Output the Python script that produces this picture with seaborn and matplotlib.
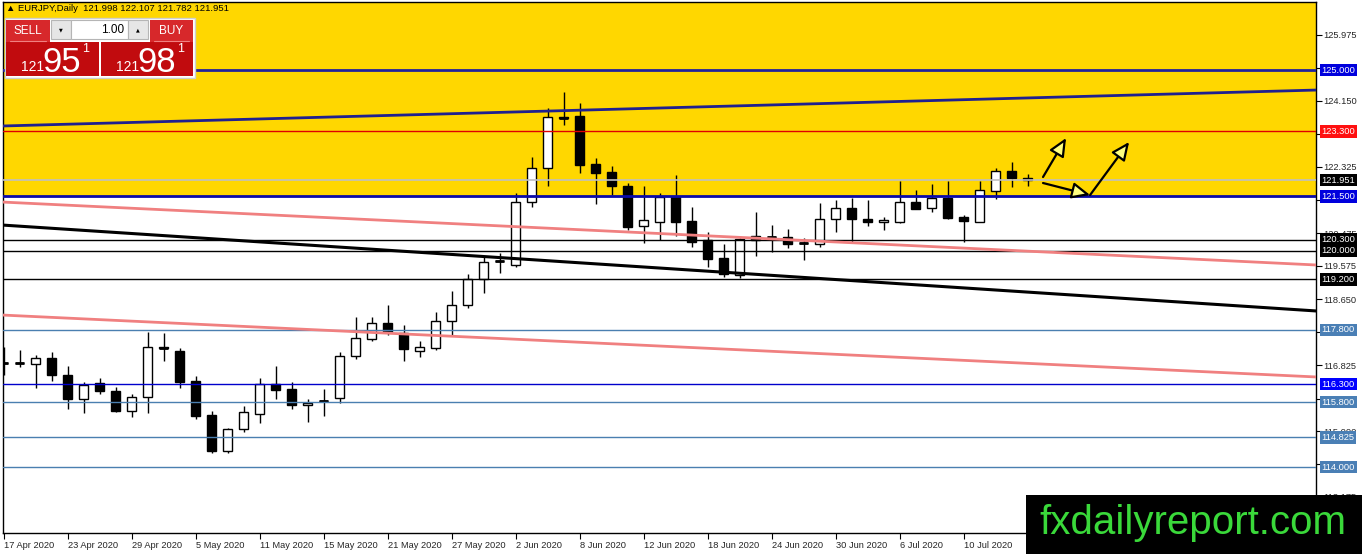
import numpy as np
import matplotlib
matplotlib.use("Agg")
import matplotlib.pyplot as plt
import matplotlib.transforms as mtransforms
from matplotlib.patches import Rectangle
import seaborn as sns

# EURJPY daily candles, 17 Apr 2020 .. 16 Jul 2020
opens = [116.89, 116.88, 116.856, 117.022, 116.551, 115.887, 116.330, 116.108, 115.554, 115.942,
         117.33, 117.216, 116.385, 115.443, 114.446, 115.056, 115.471, 116.302, 116.164, 115.720,
         115.82, 115.914, 117.078, 117.549, 117.992, 117.715, 117.216, 117.299, 118.047, 118.490,
         119.211, 119.70, 119.599, 121.344, 122.285, 123.70, 123.726, 122.396, 122.175, 121.787,
         120.679, 120.790, 121.482, 120.817, 120.291, 119.792, 119.322, 120.402, 120.37, 120.374,
         120.20, 120.180, 120.873, 121.177, 120.873, 120.790, 120.790, 121.344, 121.177, 121.454,
         120.928, 120.790, 121.648, 122.202, 121.998]
highs = [117.327, 117.244, 117.106, 117.189, 116.801, 116.358, 116.468, 116.219, 116.025, 117.743,
         117.715, 117.299, 116.524, 115.554, 115.083, 115.693, 116.468, 116.801, 116.358, 115.887,
         116.164, 117.189, 118.158, 118.158, 118.490, 117.937, 117.493, 118.297, 118.878, 119.349,
         119.848, 119.931, 121.593, 122.590, 123.947, 124.391, 124.086, 122.562, 122.341, 121.870,
         121.787, 121.593, 122.092, 121.205, 120.513, 120.180, 120.346, 121.067, 120.706, 120.596,
         120.346, 121.316, 121.399, 121.454, 121.399, 120.928, 121.925, 121.676, 121.842, 121.925,
         120.983, 121.925, 122.285, 122.452, 122.107]
lows = [116.551, 116.773, 116.191, 116.385, 115.610, 115.499, 116.025, 115.540, 115.388, 115.499,
        116.939, 116.191, 115.333, 114.391, 114.391, 114.973, 115.222, 115.887, 115.610, 115.250,
        115.416, 115.776, 116.995, 117.493, 117.660, 116.939, 117.050, 117.244, 117.660, 118.407,
        118.823, 119.377, 119.543, 121.205, 121.787, 123.477, 122.147, 121.288, 121.538, 120.568,
        120.208, 120.291, 120.402, 120.097, 119.543, 119.266, 119.238, 119.848, 119.959, 120.069,
        119.737, 120.097, 120.513, 120.236, 120.679, 120.568, 120.762, 121.140, 121.067, 120.873,
        120.236, 120.780, 121.427, 121.759, 121.782]
closes = [116.88, 116.89, 117.022, 116.551, 115.887, 116.275, 116.108, 115.554, 115.942, 117.327,
          117.31, 116.358, 115.416, 114.446, 115.056, 115.527, 116.302, 116.136, 115.720, 115.776,
          115.84, 117.078, 117.576, 117.992, 117.743, 117.272, 117.327, 118.047, 118.490, 119.211,
          119.682, 119.72, 121.344, 122.285, 123.698, 123.68, 122.369, 122.147, 121.787, 120.651,
          120.845, 121.482, 120.790, 120.236, 119.765, 119.349, 120.319, 120.291, 120.38, 120.180,
          120.22, 120.873, 121.177, 120.873, 120.790, 120.845, 121.344, 121.150, 121.454, 120.900,
          120.817, 121.676, 122.202, 122.008, 121.951]

date_labels = ["17 Apr 2020", "23 Apr 2020", "29 Apr 2020", "5 May 2020", "11 May 2020",
               "15 May 2020", "21 May 2020", "27 May 2020", "2 Jun 2020", "8 Jun 2020",
               "12 Jun 2020", "18 Jun 2020", "24 Jun 2020", "30 Jun 2020", "6 Jul 2020",
               "10 Jul 2020"]
price_ticks = [125.975, 125.050, 124.150, 123.225, 122.325, 121.400, 120.475, 119.575,
               118.650, 117.750, 116.825, 115.900, 115.000, 114.075, 113.175]

# horizontal levels
level_prices = [125.000, 123.300, 121.951, 121.500, 120.300, 120.000, 119.200,
                117.800, 116.300, 115.800, 114.825, 114.000]
level_line_colors = ["#22229a", "#e00000", "#c0c0c0", "#0a0aa8", "black", "black", "black",
                     "#4a7fb0", "#0000cc", "#4a7fb0", "#4a7fb0", "#4a7fb0"]
level_box_colors = ["#0000dd", "#ff1010", "black", "#0000dd", "black", "black", "black",
                    "#4a7fb5", "#0000ff", "#4a7fb5", "#4a7fb5", "#4a7fb5"]
level_widths = [2, 1, 1.2, 2, 1, 1, 1, 1, 1, 1, 1, 1]

# trend lines: (bar start, bar end), (price start, price end)
trend_bars = [(-0.09, 82.1), (-0.09, 82.1), (-0.09, 82.1), (-0.09, 82.1)]
trend_prices = [(123.449, 124.446), (121.343, 119.598), (120.706, 118.324), (118.213, 116.496)]
trend_colors = ["#20208f", "#f08080", "black", "#f08080"]
trend_widths = [2, 2, 2.2, 2]

# hand-drawn arrows: (tail bar, tail price) -> (tip bar, tip price)
arrows = [((64.97, 122.036), (66.41, 123.116)),
          ((64.97, 121.870), (67.91, 121.537)),
          ((67.91, 121.537), (70.35, 123.006))]

zone_low, zone_high = 121.5, 127.5

sns.set_style("white")
plt.rcParams["font.family"] = ["Liberation Sans", "DejaVu Sans"]

W, H = 1362, 554
fig = plt.figure(figsize=(W / 100, H / 100), dpi=100)
ax = fig.add_axes([2.5 / W, 21 / H, 1313.5 / W, 531.5 / H])

ax.axhspan(zone_low, zone_high, color="#ffd700", lw=0, zorder=0)

o, h, l, c = map(np.array, (opens, highs, lows, closes))
x = np.arange(len(o))
up = c >= o
ax.vlines(x, l, h, color="black", lw=1, zorder=3)
body = np.abs(c - o)
ax.bar(x, body, bottom=np.minimum(o, c), width=0.62,
       color=np.where(up, "white", "black"), edgecolor="black", lw=1, zorder=4)
doji = body < 0.03
ax.hlines(c[doji], x[doji] - 0.31, x[doji] + 0.31, color="black", lw=2, zorder=4)

for p, col, lw in zip(level_prices, level_line_colors, level_widths):
    ax.axhline(p, color=col, lw=lw, zorder=5)

for (x0, x1), (p0, p1), col, lw in zip(trend_bars, trend_prices, trend_colors, trend_widths):
    sns.lineplot(x=[x0, x1], y=[p0, p1], ax=ax, color=col, lw=lw, zorder=5)

for tail, tip in arrows:
    ax.annotate("", xy=tip, xytext=tail, zorder=6,
                arrowprops=dict(arrowstyle="-|>,head_length=1.0,head_width=0.45",
                                mutation_scale=11, fc="#ffff80", ec="black", lw=1.6,
                                shrinkA=0, shrinkB=0))

ax.set_xlim(-0.0625, 82.03)
ax.set_ylim(112.175, 126.898)

ax.set_xticks(range(0, 4 * len(date_labels), 4))
ax.set_xticklabels(date_labels)
for lab in ax.get_xticklabels():
    lab.set_ha("left")
ax.set_yticks(price_ticks)
ax.set_yticklabels([f"{t:.3f}" for t in price_ticks])
ax.yaxis.tick_right()
ax.tick_params(axis="y", right=True, left=False, length=4, pad=1.5, labelsize=6.7,
               direction="out", color="black")
ax.tick_params(axis="x", bottom=True, length=4, pad=2, labelsize=6.7,
               direction="out", color="black")
for s in ax.spines.values():
    s.set_color("black")
    s.set_linewidth(1)

trans = mtransforms.blended_transform_factory(ax.transAxes, ax.transData)
for p, col in zip(level_prices, level_box_colors):
    ax.text(1.0042, p, f"{p:.3f}", transform=trans, ha="left", va="center",
            fontsize=6.7, color="white", zorder=10, clip_on=False,
            bbox=dict(boxstyle="square,pad=0.2", fc=col, ec="none"))

# overlay in pixel coordinates for the trading panel and watermark
ov = fig.add_axes([0, 0, 1, 1], zorder=10)
ov.set_xlim(0, W)
ov.set_ylim(H, 0)
ov.axis("off")
ov.patch.set_alpha(0)

ov.text(6, 8.5, "▲ EURJPY,Daily  121.998 122.107 121.782 121.951", fontsize=6.8,
        va="center", ha="left", color="black")

ov.add_patch(Rectangle((5, 18), 190, 60, fc="white", ec="#cfcfcf", lw=1))
ov.add_patch(Rectangle((6, 20), 44, 22, fc="#d7282b", ec="none"))
ov.add_patch(Rectangle((150, 20), 43, 22, fc="#d7282b", ec="none"))
ov.add_patch(Rectangle((51, 20), 20, 19, fc="#e6e6e6", ec="#b5b5b5", lw=0.8))
ov.add_patch(Rectangle((71, 20), 57, 19, fc="white", ec="#b5b5b5", lw=0.8))
ov.add_patch(Rectangle((128, 20), 20, 19, fc="#e6e6e6", ec="#b5b5b5", lw=0.8))
ov.add_patch(Rectangle((6, 42), 93, 34, fc="#c10b0e", ec="none"))
ov.add_patch(Rectangle((101, 42), 92, 34, fc="#c10b0e", ec="none"))
ov.plot([10, 46], [40.5, 40.5], color="#f08080", lw=0.8)
ov.plot([154, 189], [40.5, 40.5], color="#f08080", lw=0.8)

ov.text(28, 31, "SELL", color="white", fontsize=8.5, ha="center", va="center")
ov.text(171.5, 31, "BUY", color="white", fontsize=8.5, ha="center", va="center")
ov.text(61, 29.5, "▼", color="black", fontsize=3.5, ha="center", va="center",
        family=["DejaVu Sans"])
ov.text(138, 29.5, "▲", color="black", fontsize=3.5, ha="center", va="center",
        family=["DejaVu Sans"])
ov.text(124, 30, "1.00", color="black", fontsize=8.5, ha="right", va="center")

for x0, big in [(6, "95"), (101, "98")]:
    ov.text(x0 + 27, 71, "121", color="white", fontsize=10, ha="center", va="baseline")
    ov.text(x0 + 56, 72, big, color="white", fontsize=25, ha="center", va="baseline")
    ov.text(x0 + 80, 52, "1", color="white", fontsize=9, ha="center", va="baseline")

ov.add_patch(Rectangle((1026, 495), W - 1026, H - 495, fc="black", ec="none"))
ov.text(1193, 534, "fxdailyreport.com", color="#3ad93a", fontsize=29,
        ha="center", va="baseline")

fig.savefig("out.png", dpi=100)
